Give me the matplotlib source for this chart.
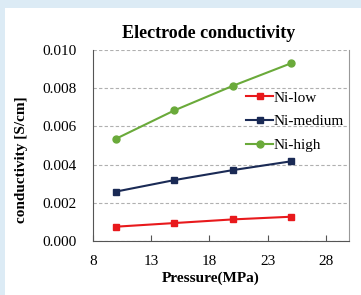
import matplotlib.pyplot as plt
from matplotlib.patches import Rectangle

# data
pressure = [10, 15, 20, 25]
ni_low = [0.00075, 0.00094, 0.00113, 0.00127]
ni_medium = [0.00259, 0.00319, 0.00371, 0.00417]
ni_high = [0.00536, 0.00684, 0.00812, 0.00930]

plt.rcParams['font.family'] = 'serif'
plt.rcParams['font.serif'] = ['Liberation Serif', 'DejaVu Serif']

fig = plt.figure(figsize=(3.61, 2.95), dpi=100)
fig.patch.set_facecolor("#dcebf5")
# white panel behind the chart
fig.patches.append(Rectangle((5 / 361, 0), 1, 1 - 8 / 295, transform=fig.transFigure,
                             facecolor="white", edgecolor="none", zorder=-10))

ax = fig.add_axes([93 / 361, 1 - 241 / 295, 256 / 361, 191 / 295])
ax.set_facecolor("white")

ax.plot(pressure, ni_low, color="#e8191c", marker="s", markersize=5, lw=1.5, label="Ni-low")
ax.plot(pressure, ni_medium, color="#1a2a55", marker="s", markersize=5, lw=1.5, label="Ni-medium")
ax.plot(pressure, ni_high, color="#6aaa3a", marker="o", markersize=5, lw=1.5, label="Ni-high")

ax.set_xlim(8, 30)
ax.set_ylim(0, 0.010)
ax.set_xticks([8, 13, 18, 23, 28])
ax.set_yticks([0.000, 0.002, 0.004, 0.006, 0.008, 0.010])
ax.set_yticklabels(["0.000", "0.002", "0.004", "0.006", "0.008", "0.010"])
ax.tick_params(axis="x", direction="in", length=4, color="#555555", labelsize=11, pad=10)
ax.tick_params(axis="y", length=0, labelsize=11, pad=12)

ax.yaxis.grid(True, linestyle=(0, (3, 2)), color="#b0b0b0", lw=0.8)
ax.set_axisbelow(True)
ax.spines["top"].set_visible(False)
for s in ["left", "bottom", "right"]:
    ax.spines[s].set_color("#555555")
ax.spines["right"].set_color("#999999")

ax.set_title("Electrode conductivity", fontsize=13, fontweight="bold", pad=9, x=0.45)
ax.set_xlabel("Pressure(MPa)", fontsize=11, fontweight="bold")
ax.set_ylabel("conductivity [S/cm]", fontsize=11, fontweight="bold")
ax.xaxis.set_label_coords(0.46, -0.16)
ax.yaxis.set_label_coords(-0.255, 0.427)

ax.legend(loc="upper left", bbox_to_anchor=(0.567, 0.825), frameon=False, fontsize=11,
          handlelength=1.8, handletextpad=0.0, labelspacing=0.65, borderpad=0)

fig.savefig("out.png", dpi=100, facecolor=fig.get_facecolor())
